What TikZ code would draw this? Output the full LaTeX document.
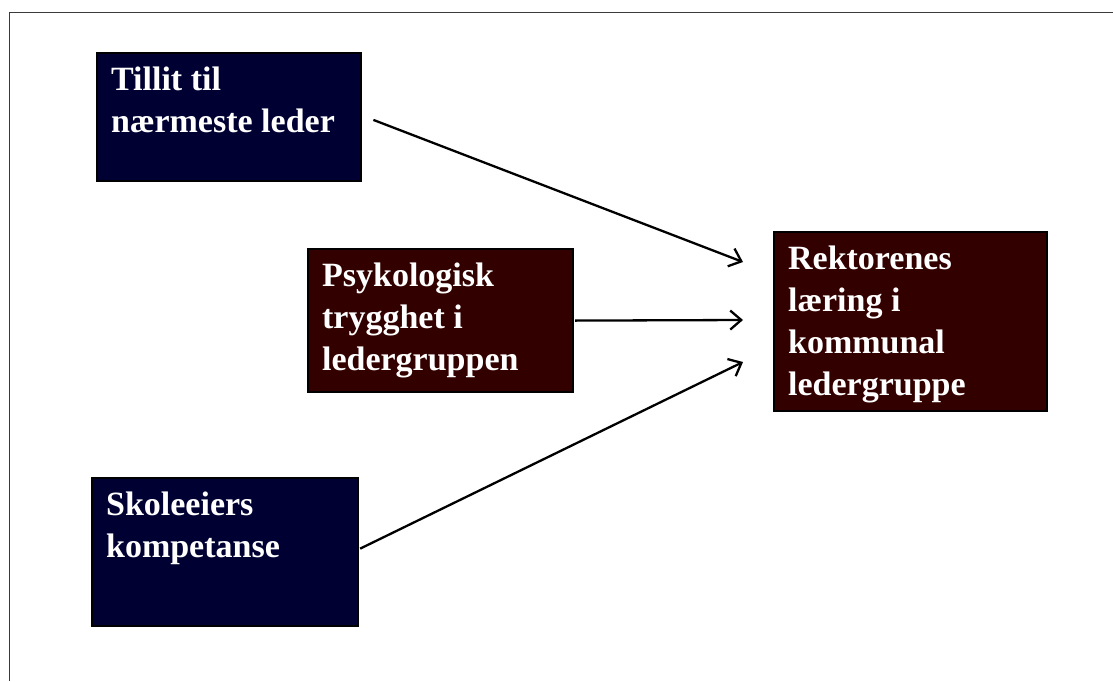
\documentclass[tikz,border=0pt]{standalone}
\usepackage{fontspec}
\setmainfont{Liberation Serif}
\usetikzlibrary{arrows.meta}
\definecolor{navybox}{HTML}{000033}
\definecolor{maroonbox}{HTML}{330000}
\definecolor{framegray}{HTML}{3A3A3A}
% box content: top-aligned, left-aligned white bold text in a fixed-size panel
\newcommand{\boxtext}[3]{\begin{minipage}[c][#2pt][t]{#1pt}\vspace*{14pt}\raggedright
  \fontsize{34}{42}\selectfont\bfseries\color{white}#3\end{minipage}}
\tikzset{
  panel/.style={draw=black, line width=2.2pt, fill=#1, inner xsep=14pt, inner ysep=0pt, anchor=north west},
  link/.style={line width=2.3pt, -{Straight Barb[length=11pt,width=19pt,line width=2.3pt]}},
}
\begin{document}
\begin{tikzpicture}[x=1pt,y=-1pt]
\useasboundingbox (0,0) rectangle (1113,681);
\fill[white] (0,0) rectangle (1113,681);
% outer frame (top and left edges)
\draw[framegray, line width=1.6pt] (9.5,681) -- (9.5,12.5) -- (1113,12.5);

\node[panel=navybox] (tillit) at (96,52) {\boxtext{236}{128}{Tillit til\\nærmeste leder}};
\node[panel=maroonbox] (psyk) at (307,248) {\boxtext{237}{143}{Psykologisk\\trygghet i\\ledergruppen}};
\node[panel=navybox] (skole) at (91,477) {\boxtext{238}{148}{Skoleeiers\\kompetanse}};
\node[panel=maroonbox] (rekt) at (773,231) {\boxtext{245}{179}{Rektorenes\\læring i\\kommunal\\ledergruppe}};

% arrow tips in front of the outcome box
\coordinate (t1) at (743,262);
\coordinate (t2) at (743,320);
\coordinate (t3) at (743,362);

\draw[link, shorten <=12pt] ([yshift=1.5pt]tillit.east) -- (t1);
\draw[link, shorten <=1pt] (psyk.east) -- (t2);
\draw[link, shorten <=1pt] ([yshift=3pt]skole.east) -- (t3);
\end{tikzpicture}
\end{document}
